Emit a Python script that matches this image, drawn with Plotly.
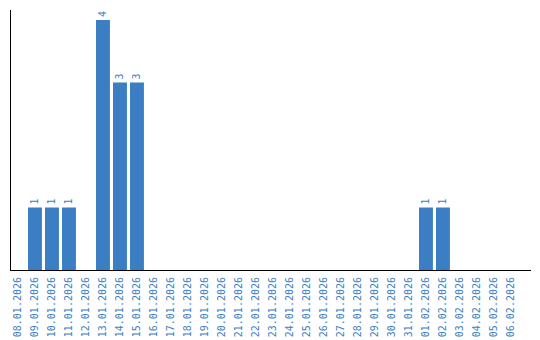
import plotly.graph_objects as go

dates = ["08.01.2026", "09.01.2026", "10.01.2026", "11.01.2026", "12.01.2026",
         "13.01.2026", "14.01.2026", "15.01.2026", "16.01.2026", "17.01.2026",
         "18.01.2026", "19.01.2026", "20.01.2026", "21.01.2026", "22.01.2026",
         "23.01.2026", "24.01.2026", "25.01.2026", "26.01.2026", "27.01.2026",
         "28.01.2026", "29.01.2026", "30.01.2026", "31.01.2026", "01.02.2026",
         "02.02.2026", "03.02.2026", "04.02.2026", "05.02.2026", "06.02.2026"]
counts = [0, 1, 1, 1, 0, 4, 3, 3, 0, 0,
          0, 0, 0, 0, 0, 0, 0, 0, 0, 0,
          0, 0, 0, 0, 1, 1, 0, 0, 0, 0]

blue = "#3b7ec3"
labels = [str(c) if c > 0 else "" for c in counts]

fig = go.Figure(go.Bar(
    x=dates, y=counts, marker_color=blue, marker_line_width=0,
    text=labels, textposition="outside", textangle=-90,
    textfont=dict(family="DejaVu Sans Mono", size=10, color=blue),
    cliponaxis=False,
))
fig.update_layout(
    width=540, height=340,
    margin=dict(l=11, r=9, t=10, b=70, autoexpand=False),
    paper_bgcolor="white", plot_bgcolor="white",
    bargap=0.18, showlegend=False,
    font=dict(family="DejaVu Sans Mono", size=10, color=blue),
)
fig.update_xaxes(type="category", tickangle=-90, showline=True, linecolor="black",
                 linewidth=1, showgrid=False, ticks="", ticklen=0,
                 automargin=False, ticklabelstandoff=2,
                 range=[-0.41, 30.18],
                 tickfont=dict(family="DejaVu Sans Mono", size=10, color=blue))
fig.update_yaxes(range=[0, 4.16], showline=True, linecolor="black", linewidth=1,
                 showgrid=False, showticklabels=False, ticks="", zeroline=False,
                 automargin=False)
fig.write_html("out.html")
